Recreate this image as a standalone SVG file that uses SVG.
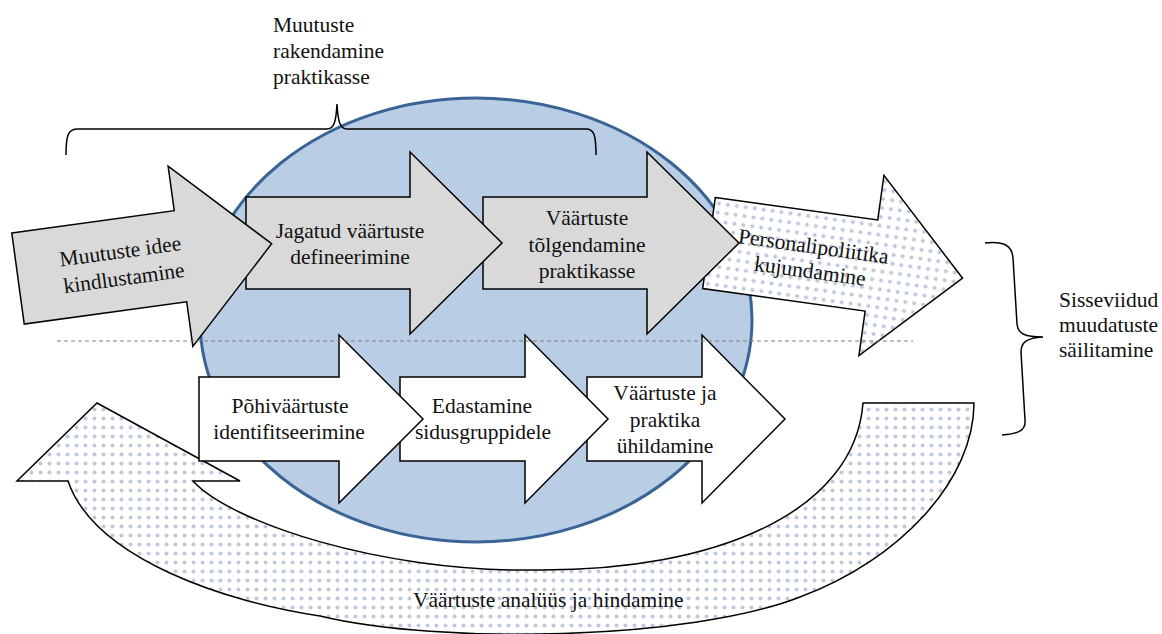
<svg xmlns="http://www.w3.org/2000/svg" width="1162" height="634" viewBox="0 0 1162 634" font-family="Liberation Serif, DejaVu Serif, serif">
<style>
text{font-family:'Liberation Serif','DejaVu Serif',serif;font-size:21.5px;fill:#111}
.c{text-anchor:middle}
.gray{fill:#D9D9D9;stroke:#000;stroke-width:1.5;stroke-linejoin:miter}
.white{fill:#fff;stroke:#000;stroke-width:1.5}
.dot{fill:url(#dots);stroke:#000;stroke-width:1.5}
.brace{fill:none;stroke:#000;stroke-width:1.5}
</style>
<defs>
<pattern id="dots" width="9" height="9" patternUnits="userSpaceOnUse">
<rect width="9" height="9" fill="#fff"/>
<circle cx="4.5" cy="4.5" r="2" fill="#BCC9DA"/>
</pattern>
<path id="bigArrow" d="M0,-46 H164 V-91 L256,0 L164,91 V46 H0 Z"/>
</defs>
<rect width="1162" height="634" fill="#fff"/>

<g id="circle">
<ellipse cx="476" cy="320" rx="276" ry="222" fill="#B9CDE5" stroke="#3A6495" stroke-width="3"/>
</g>

<g id="n-analysis">
<path class="dot" d="M974,403 C974,480 900,560 800,597 C690,640 440,645 320,616 C230,603 95,560 68,481 L17,481 L97,403 L240,481 L193,481 C230,522 380,572 533,570 C720,572 855,510 863,403 Z"/>
<text x="413" y="607">Väärtuste analüüs ja hindamine</text>
</g>

<g id="n-personal">
<g transform="translate(709,243) rotate(7.9)">
<use href="#bigArrow" class="dot"/>
<text class="c" x="104" y="-4">Personalipoliitika</text>
<text class="c" x="104" y="21">kujundamine</text>
</g>
</g>

<g id="n-tolgendamine">
<g transform="translate(483,243)">
<use href="#bigArrow" class="gray"/>
<text class="c" x="104" y="-18">Väärtuste</text>
<text class="c" x="104" y="9">tõlgendamine</text>
<text class="c" x="104" y="35">praktikasse</text>
</g>
</g>

<g id="n-jagatud">
<g transform="translate(246,243)">
<use href="#bigArrow" class="gray"/>
<text class="c" x="104" y="-5">Jagatud väärtuste</text>
<text class="c" x="104" y="21">defineerimine</text>
</g>
</g>

<g id="n-idee">
<g transform="translate(18,278.5) rotate(-7.8)">
<use href="#bigArrow" class="gray"/>
<text class="c" x="105" y="-6">Muutuste idee</text>
<text class="c" x="105" y="21">kindlustamine</text>
</g>
</g>

<g id="n-uhildamine">
<path class="white" d="M587,377 H702 V335 L785,419 L702,503 V461 H587 Z"/>
<text class="c" x="665" y="400">Väärtuste ja</text>
<text class="c" x="665" y="427">praktika</text>
<text class="c" x="665" y="453">ühildamine</text>
</g>

<g id="n-edastamine">
<path class="white" d="M400,377 H525 V335 L608,419 L525,503 V461 H400 Z"/>
<text class="c" x="482" y="413">Edastamine</text>
<text class="c" x="483" y="439">sidusgruppidele</text>
</g>

<g id="n-pohivaartuste">
<path class="white" d="M199,377 H339 V335 L423,419 L339,503 V461 H199 Z"/>
<text class="c" x="290" y="413">Põhiväärtuste</text>
<text class="c" x="289" y="439">identifitseerimine</text>
</g>

<g id="connectors">
<path class="brace" d="M66,155 C66,135 68,129 78,129 L327,129 C334,129 336,122 337,104 C338,122 340,129 347,129 L586,129 C594,129 596,135 596,155"/>
<path class="brace" d="M985,243 C1005,241 1012,246 1013,258 L1017,324 C1018,334 1025,337 1043,337 C1027,338 1021,342 1021,352 L1025,420 C1026,430 1019,434 1002,435"/>
<line x1="57" y1="341" x2="913" y2="341" stroke="#7F7F7F" stroke-width="1" stroke-dasharray="4,3"/>
</g>

<g id="label-top">
<text x="273" y="32">Muutuste</text>
<text x="273" y="58">rakendamine</text>
<text x="273" y="84">praktikasse</text>
</g>

<g id="label-right">
<text x="1059" y="307">Sisseviidud</text>
<text x="1059" y="332">muudatuste</text>
<text x="1059" y="357">säilitamine</text>
</g>
</svg>
